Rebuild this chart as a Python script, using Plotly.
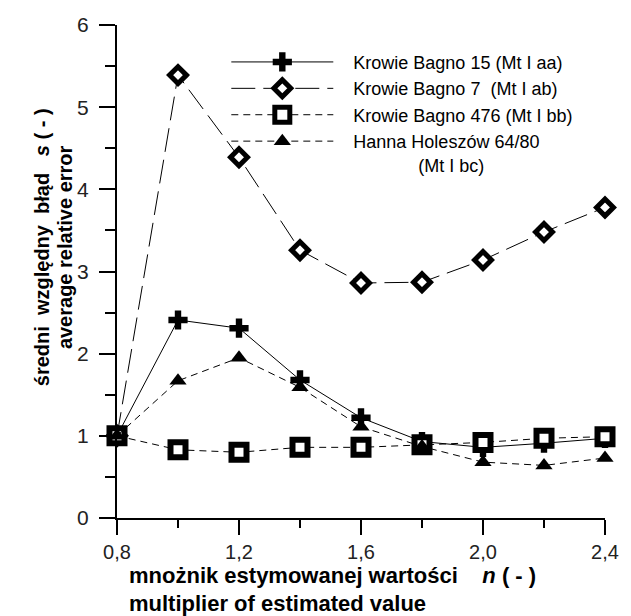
import plotly.graph_objects as go

n_values = [0.8, 1.0, 1.2, 1.4, 1.6, 1.8, 2.0, 2.2, 2.4]

kb15 = [1.00, 2.41, 2.31, 1.68, 1.22, 0.93, 0.86, 0.91, 0.97]
kb7 = [1.00, 5.39, 4.39, 3.26, 2.86, 2.87, 3.14, 3.48, 3.78]
kb476 = [1.00, 0.83, 0.80, 0.86, 0.86, 0.89, 0.92, 0.97, 0.99]
hh6480 = [1.00, 1.67, 1.95, 1.59, 1.11, 0.87, 0.68, 0.64, 0.73]

names = [
    "   Krowie Bagno 15 (Mt I aa)",
    "   Krowie Bagno 7  (Mt I ab)",
    "   Krowie Bagno 476 (Mt I bb)",
    "   Hanna Holeszów 64/80<br>                (Mt I bc)",
]

x_tickvals = [0.8, 1.2, 1.6, 2.0, 2.4]
x_ticktext = ["0,8", "1,2", "1,6", "2,0", "2,4"]
y_tickvals = [0, 1, 2, 3, 4, 5, 6]

x_title_line1 = "<b>mnożnik estymowanej wartości    <i>n</i> ( - )</b>"
x_title_line2 = "<b>multiplier of estimated value</b>"
y_title_line1 = "<b>średni  względny  błąd   <i>s</i> ( - )</b>"
y_title_line2 = "<b>average relative error</b>"

FONT = "Liberation Sans, Arial, sans-serif"

fig = go.Figure()

fig.add_trace(go.Scatter(
    x=n_values, y=kb15, name=names[0], mode="lines+markers",
    line=dict(color="black", width=1, dash="solid"),
    marker=dict(symbol="cross", size=16, color="black", line=dict(width=0)),
    cliponaxis=False,
))
fig.add_trace(go.Scatter(
    x=n_values, y=kb7, name=names[1], mode="lines+markers",
    line=dict(color="black", width=1, dash="24px,8px"),
    marker=dict(symbol="diamond", size=13, color="white",
                line=dict(color="black", width=5)),
    cliponaxis=False,
))
fig.add_trace(go.Scatter(
    x=n_values, y=kb476, name=names[2], mode="lines+markers",
    line=dict(color="black", width=1, dash="7px,5px"),
    marker=dict(symbol="square", size=15, color="white",
                line=dict(color="black", width=6)),
    cliponaxis=False,
))
fig.add_trace(go.Scatter(
    x=n_values, y=hh6480, name=names[3], mode="lines+markers",
    line=dict(color="black", width=1, dash="7px,5px"),
    marker=dict(symbol="triangle-up", size=15, color="black", line=dict(width=0)),
    cliponaxis=False,
))

fig.update_layout(
    width=631, height=616,
    margin=dict(l=117, r=19, t=25, b=98),
    paper_bgcolor="white", plot_bgcolor="white",
    font=dict(family=FONT, color="black", size=18),
    showlegend=True,
    legend=dict(
        x=0.224, y=0.962, xanchor="left", yanchor="top",
        bgcolor="rgba(0,0,0,0)", borderwidth=0,
        font=dict(family=FONT, size=18, color="black"),
        tracegroupgap=0, itemwidth=102, valign="top",
    ),
    xaxis=dict(
        range=[0.8, 2.4], showgrid=False, zeroline=False,
        showline=True, linecolor="black", linewidth=2,
        ticks="outside", ticklen=15, tickwidth=2, tickcolor="black",
        tickvals=x_tickvals, ticktext=x_ticktext,
        tickfont=dict(family=FONT, size=20, color="#222"),
        minor=dict(dtick=0.2, tick0=0.8, ticks="outside", ticklen=8,
                   tickwidth=2, tickcolor="black", showgrid=False),
    ),
    yaxis=dict(
        range=[0, 6], showgrid=False, zeroline=False,
        showline=True, linecolor="black", linewidth=2,
        ticks="outside", ticklen=16, tickwidth=2, tickcolor="black",
        tickvals=y_tickvals, ticklabelstandoff=6,
        tickfont=dict(family=FONT, size=21, color="#222"),
        minor=dict(dtick=0.5, tick0=0, ticks="outside", ticklen=10,
                   tickwidth=2, tickcolor="black", showgrid=False),
    ),
    annotations=[
        dict(text=x_title_line1, xref="paper", yref="paper",
             x=0.02, y=-0.087, xanchor="left", yanchor="top", align="left",
             showarrow=False, font=dict(family=FONT, size=22, color="black")),
        dict(text=x_title_line2, xref="paper", yref="paper",
             x=0.02, y=-0.145, xanchor="left", yanchor="top", align="left",
             showarrow=False, font=dict(family=FONT, size=22, color="black")),
        dict(text=y_title_line1, xref="paper", yref="paper",
             x=-0.155, y=0.55, xanchor="center", yanchor="middle", textangle=-90,
             showarrow=False, font=dict(family=FONT, size=20, color="black")),
        dict(text=y_title_line2, xref="paper", yref="paper",
             x=-0.106, y=0.55, xanchor="center", yanchor="middle", textangle=-90,
             showarrow=False, font=dict(family=FONT, size=20, color="black")),
    ],
)

fig.write_html("out.html")
